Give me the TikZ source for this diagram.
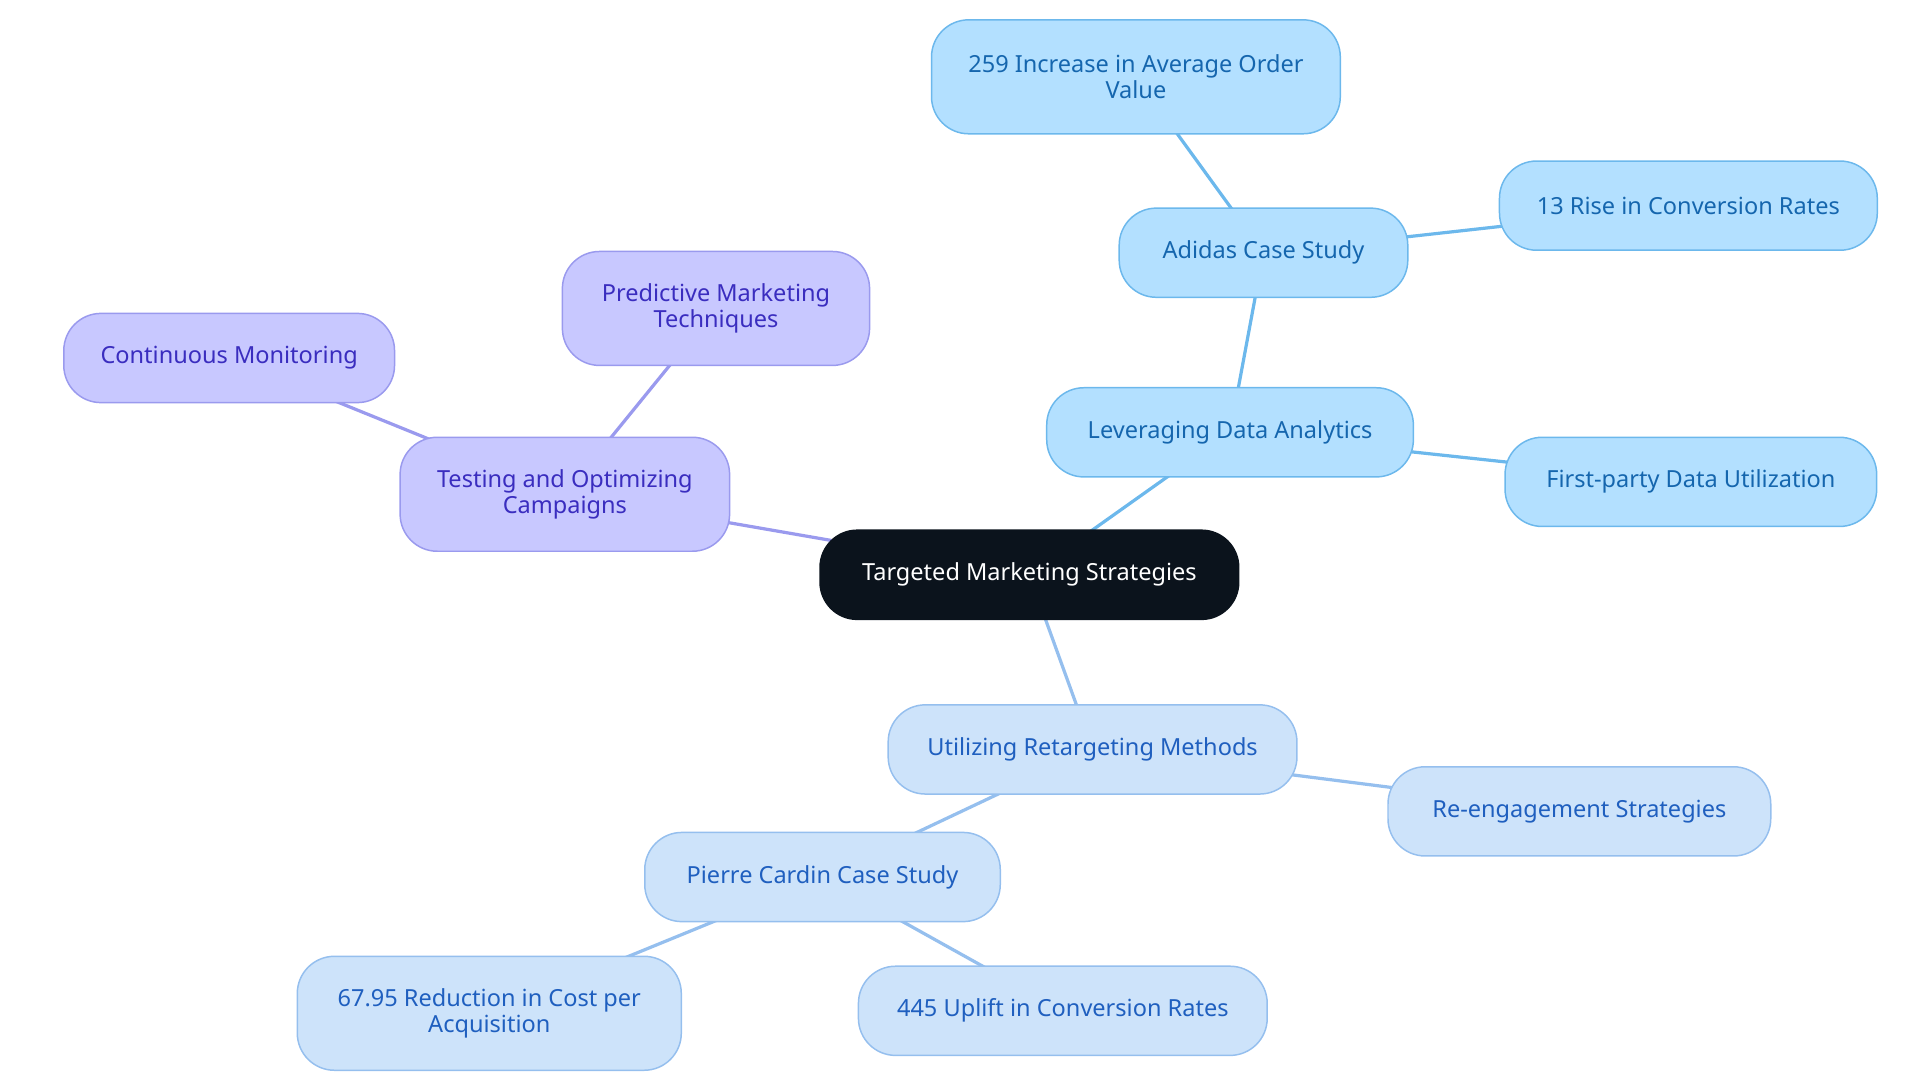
\documentclass[tikz,border=0pt]{standalone}
\usepackage{fontspec}
\setmainfont{Noto Sans}
\usetikzlibrary{backgrounds}
\definecolor{rootc}{HTML}{0B131C}
\definecolor{bfill}{HTML}{B3E0FF}\definecolor{bdraw}{HTML}{6CB8EC}\definecolor{btext}{HTML}{1566AE}
\definecolor{pfill}{HTML}{C8C8FF}\definecolor{pdraw}{HTML}{9A9AEE}\definecolor{ptext}{HTML}{3A2DBF}
\definecolor{rfill}{HTML}{CDE3FA}\definecolor{rdraw}{HTML}{95BFEE}\definecolor{rtext}{HTML}{1F5FBF}
\tikzset{
 box/.style n args={2}{rounded corners=15pt, minimum width=#1*0.5pt, minimum height=#2*0.5pt, align=center, inner sep=0pt, font=\fontsize{9.5}{10.5}\selectfont, line width=0.6pt},
 bl/.style={draw=bdraw, fill=bfill, text=btext},
 pu/.style={draw=pdraw, fill=pfill, text=ptext},
 re/.style={draw=rdraw, fill=rfill, text=rtext},
 eb/.style={draw=bdraw, line width=1.3pt},
 ep/.style={draw=pdraw, line width=1.3pt},
 er/.style={draw=rdraw, line width=1.3pt},
}
\begin{document}
\begin{tikzpicture}[x=0.5pt,y=-0.5pt]
\useasboundingbox (0,0) rectangle (1550,874);
\node[box={338}{72}, fill=rootc, draw=rootc, text=white] (root) at (831,464) {Targeted Marketing Strategies};
\node[box={296}{72}, bl] (lda) at (993,349) {Leveraging Data Analytics};
\node[box={233}{72}, bl] (adi) at (1020,204) {Adidas Case Study};
\node[box={330}{92}, bl] (aov) at (917,62) {259 Increase in Average Order\\Value};
\node[box={305}{72}, bl] (cr) at (1363,166) {13 Rise in Conversion Rates};
\node[box={300}{72}, bl] (fpd) at (1365,389) {First-party Data Utilization};
\node[box={266}{92}, pu] (test) at (456,399) {Testing and Optimizing\\Campaigns};
\node[box={248}{92}, pu] (pred) at (578,249) {Predictive Marketing\\Techniques};
\node[box={267}{72}, pu] (cont) at (185,289) {Continuous Monitoring};
\node[box={330}{72}, re] (ret) at (882,605) {Utilizing Retargeting Methods};
\node[box={309}{72}, re] (reng) at (1275,655) {Re-engagement Strategies};
\node[box={287}{72}, re] (pc) at (664,708) {Pierre Cardin Case Study};
\node[box={310}{92}, re] (cpa) at (395,818) {67.95 Reduction in Cost per\\Acquisition};
\node[box={330}{72}, re] (upl) at (858,816) {445 Uplift in Conversion Rates};
\begin{scope}[on background layer]
\draw[eb] (root.center) -- (lda.center);
\draw[eb] (lda.center) -- (adi.center);
\draw[eb] (adi.center) -- (aov.center);
\draw[eb] (adi.center) -- (cr.center);
\draw[eb] (lda.center) -- (fpd.center);
\draw[ep] (root.center) -- (test.center);
\draw[ep] (test.center) -- (pred.center);
\draw[ep] (test.center) -- (cont.center);
\draw[er] (root.center) -- (ret.center);
\draw[er] (ret.center) -- (reng.center);
\draw[er] (ret.center) -- (pc.center);
\draw[er] (pc.center) -- (cpa.center);
\draw[er] (pc.center) -- (upl.center);
\end{scope}
\end{tikzpicture}
\end{document}
